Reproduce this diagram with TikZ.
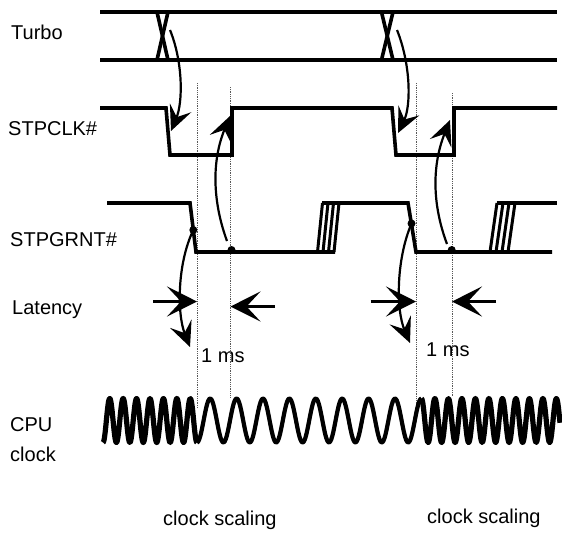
\documentclass[tikz,border=0pt]{standalone}
\usepackage{fontspec}
\setmainfont{Liberation Sans}
\usetikzlibrary{arrows.meta}
\begin{document}
\begin{tikzpicture}[x=1pt,y=-1pt,
  sig/.style={line width=3.6pt, line join=miter},
  hatch/.style={line width=3pt},
  guide/.style={line width=0.8pt, densely dotted, black!65},
  bendarrow/.style={line width=2.2pt, -{Stealth[length=25pt,width=23pt,inset=10pt]}},
  latarrow/.style={line width=2.6pt, -{Stealth[length=30pt,width=30pt,inset=14pt]}},
  lbl/.style={anchor=base west, inner sep=0pt, font=\fontsize{20}{24}\selectfont},
  dotnode/.style={circle, fill, inner sep=0pt, minimum size=8pt},
  clkfast/.style={line width=5.2pt, line join=round},
  clkslow/.style={line width=4.2pt, line join=round}]
\useasboundingbox (0,0) rectangle (562,533);

% labels
\node[lbl] (tTurbo) at (11,39.3) {Turbo};
\node[lbl] (tClk) at (8,135) {STPCLK\#};
\node[lbl] (tGrnt) at (10,246.5) {STPGRNT\#};
\node[lbl] (tLat) at (12,314.3) {Latency};
\node[lbl] (tCpu) at (10,431.7) {CPU};
\node[lbl] (tCpu2) at (10,461.7) {clock};
\node[lbl] (tScale1) at (163,525) {clock scaling};
\node[lbl] (tScale2) at (427,523.3) {clock scaling};
\node[lbl] (tMs1) at (201,362) {1 ms};
\node[lbl] (tMs2) at (426,356) {1 ms};

% guide lines
\coordinate (d1t) at (197,83);   \coordinate (d1b) at (197,408);
\coordinate (d2t) at (230.5,87); \coordinate (d2b) at (230.5,397);
\coordinate (d3t) at (416,83);   \coordinate (d3b) at (416,408);
\coordinate (d4t) at (452,93);   \coordinate (d4b) at (452,396);
\draw[guide] (d1t) -- (d1b);
\draw[guide] (d2t) -- (d2b);
\draw[guide] (d3t) -- (d3b);
\draw[guide] (d4t) -- (d4b);

% Turbo
\draw[sig] (100,12) -- (557,12);
\draw[sig] (100,60) -- (557,60);
\draw[sig] (157,12) -- (168,60);
\draw[sig] (168,12) -- (157,60);
\draw[sig] (381.5,12) -- (393,60);
\draw[sig] (393,12) -- (381.5,60);

% STPCLK#
\draw[sig] (100,108) -- (166,108) -- (170,155) -- (232,155) -- (232,108)
  -- (392,108) -- (396,155) -- (454,155) -- (454,108) -- (557,108);

% STPGRNT#
\draw[sig] (107,203) -- (190,203) -- (196,252) -- (335,252);
\foreach \b in {317.5,323,328.5,334}
  \draw[hatch] (\b,252) -- ({\b+5},203);
\draw[sig] (322,203) -- (408,203) -- (416,252) -- (552,252);
\foreach \b in {490,496,502,508}
  \draw[hatch] (\b,252) -- ({\b+7},203);
\draw[sig] (496.5,203) -- (557,203);

% dots
\node[dotnode] (g1) at (193.3,230) {};
\node[dotnode] (g2) at (231.5,250) {};
\node[dotnode] (g3) at (411.5,223.5) {};
\node[dotnode] (g4) at (451.7,250) {};

% Turbo -> STPCLK arrows
\coordinate (x1) at (170,30);  \coordinate (c1) at (171,131);
\coordinate (x2) at (397,30);  \coordinate (c2) at (398,133);
\draw[bendarrow] (x1) .. controls (183,62) and (183,102) .. (c1);
\draw[bendarrow] (x2) .. controls (411,65) and (411,106) .. (c2);

% STPGRNT -> STPCLK rising edge arrows
\coordinate (s2) at (227,241); \coordinate (r2) at (230,116);
\coordinate (s4) at (447,244); \coordinate (r4) at (450,120);
\draw[bendarrow] (s2) .. controls (212,200) and (212,160) .. (r2);
\draw[bendarrow] (s4) .. controls (432,204) and (432,165) .. (r4);

% STPGRNT -> down arrows
\coordinate (e1) at (190,347);
\coordinate (e3) at (410,343);
\draw[bendarrow] (g1.center) .. controls (177,264) and (177,314) .. (e1);
\draw[bendarrow] (g3.center) .. controls (396,260) and (396,310) .. (e3);

% latency arrows
\coordinate (la1) at (153,301.5); \coordinate (lb1) at (197,301.5);
\coordinate (ra1) at (275,306.5); \coordinate (rb1) at (230.5,306.5);
\coordinate (la2) at (370.5,301.5); \coordinate (lb2) at (416,301.5);
\coordinate (ra2) at (496,301.5); \coordinate (rb2) at (452,301.5);
\draw[latarrow] (la1) -- (lb1);
\draw[latarrow] (ra1) -- (rb1);
\draw[latarrow] (la2) -- (lb2);
\draw[latarrow] (ra2) -- (rb2);

% CPU clock
\draw[clkfast] plot[domain=103:197, samples=220] (\x, {420.5 + 22*cos((\x-103)/13.43*360)});
\draw[clkslow] plot[domain=197:421.4, samples=220] (\x, {420.5 + 22*cos((\x-197)/26.4*360)});
\draw[clkfast] plot[domain=421.4:560, samples=260] (\x, {420.5 - 22*cos((\x-421.4)/13.5*360)});
\end{tikzpicture}
\end{document}
